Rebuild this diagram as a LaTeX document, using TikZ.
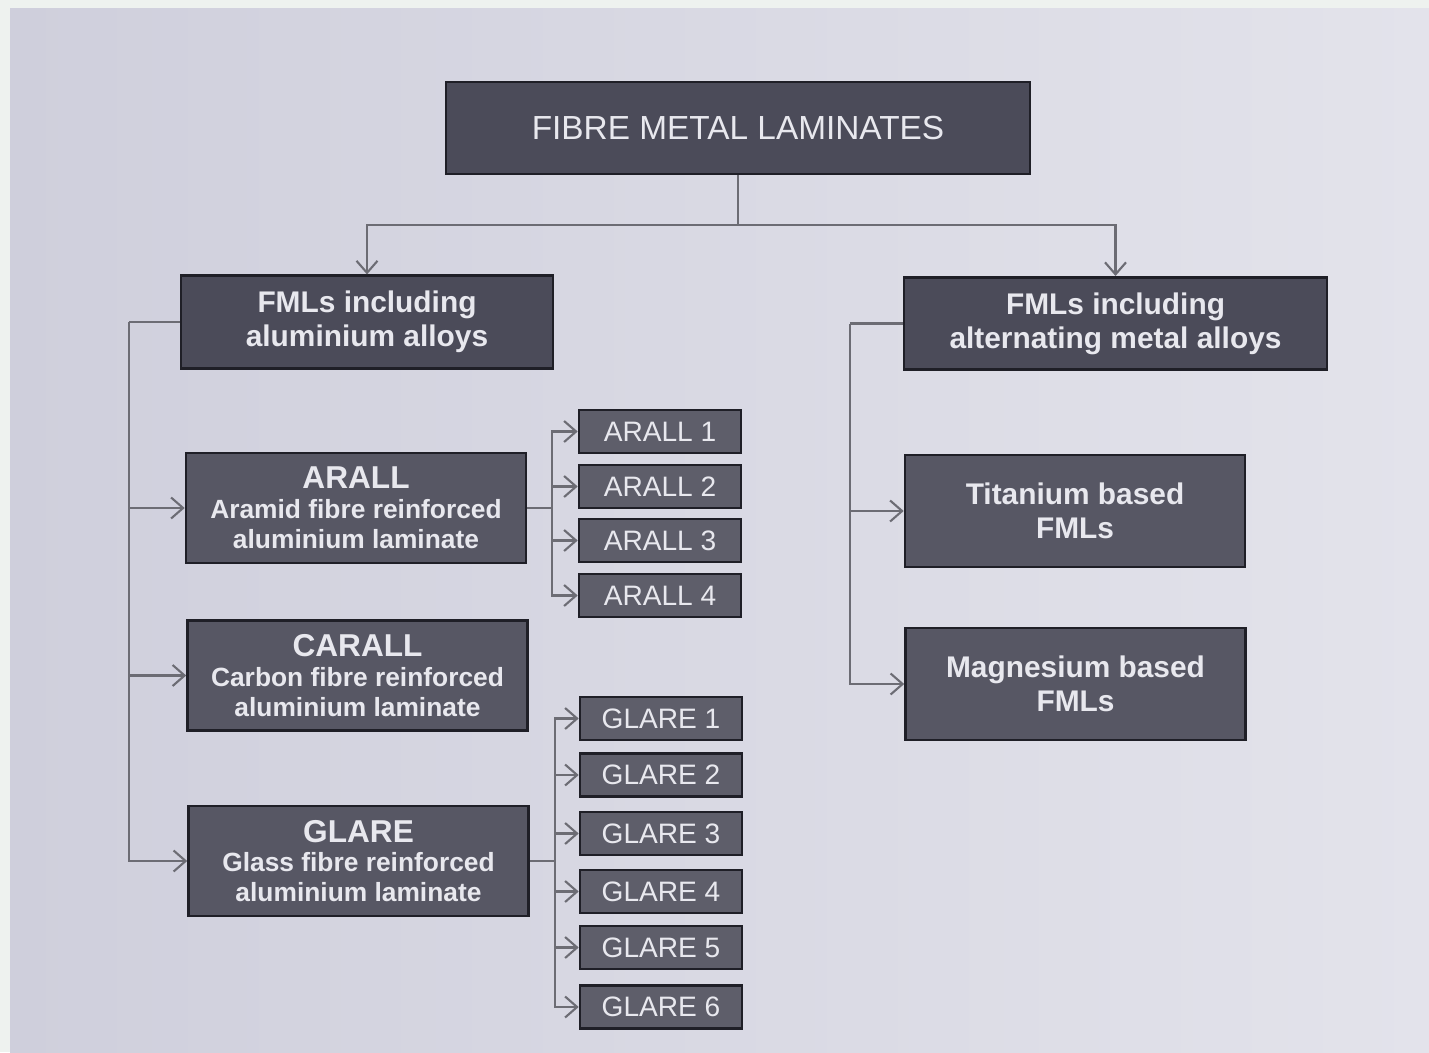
\documentclass[tikz,border=0pt]{standalone}
\usepackage{fontspec}
\setmainfont{Liberation Sans}
\usetikzlibrary{arrows.meta, positioning}
\definecolor{bgout}{HTML}{EEF2EF}
\definecolor{bgleft}{HTML}{CFCFDC}
\definecolor{bgright}{HTML}{E3E3EB}
\definecolor{boxdark}{HTML}{4B4B59}
\definecolor{boxmid}{HTML}{575764}
\definecolor{boxsub}{HTML}{5E5E6A}
\definecolor{boxline}{HTML}{1F1F27}
\definecolor{boxtext}{HTML}{E8E8EE}
\definecolor{linkgray}{HTML}{6C6C74}

\begin{document}
\begin{tikzpicture}[
    x=0.02cm, y=-0.02cm,
    box/.style={rectangle, draw=boxline, line width=1.5pt, fill=boxmid,
                text=boxtext, align=center, inner sep=0pt},
    topbox/.style={box, fill=boxdark, minimum width=11.68cm, minimum height=1.84cm,
                   font=\fontsize{19}{22}\selectfont},
    catbox/.style={box, fill=boxdark, minimum height=1.85cm,
                   font=\bfseries\fontsize{17}{19.5}\selectfont},
    typebox/.style={box, minimum width=6.8cm, minimum height=2.2cm,
                    font=\bfseries\fontsize{15}{17}\selectfont},
    subbox/.style={box, fill=boxsub, minimum width=3.24cm, minimum height=0.86cm,
                   font=\fontsize{16}{18}\selectfont},
    link/.style={draw=linkgray, line width=1.2pt},
    arr/.style={link, -{Straight Barb[length=2.4mm, width=4.2mm]}}
]
% background of the slide
\fill[bgout] (0,0) rectangle (1429,1052);
\shade[left color=bgleft, right color=bgright] (10,8) rectangle (1429,1052);

% boxes
\node[topbox] (fml) at (738,128) {FIBRE METAL LAMINATES};
\node[catbox, minimum width=7.44cm] (alu) at (367,322) {FMLs including\\aluminium alloys};
\node[catbox, minimum width=8.46cm] (alt) at (1115.5,323.5) {FMLs including\\alternating metal alloys};

\node[typebox] (arall)  at (356,508)   {{\fontsize{18}{20}\selectfont ARALL}\\Aramid fibre reinforced\\aluminium laminate};
\node[typebox] (carall) at (357.5,675.5) {{\fontsize{18}{20}\selectfont CARALL}\\Carbon fibre reinforced\\aluminium laminate};
\node[typebox] (glare)  at (358.5,861) {{\fontsize{18}{20}\selectfont GLARE}\\Glass fibre reinforced\\aluminium laminate};

\node[subbox] (arall1) at (660,431.5) {ARALL 1};
\node[subbox] (arall2) at (660,486.5) {ARALL 2};
\node[subbox] (arall3) at (660,540.5) {ARALL 3};
\node[subbox] (arall4) at (660,595.5) {ARALL 4};

\node[subbox] (glare1) at (661,718.5)  {GLARE 1};
\node[subbox] (glare2) at (661,775)    {GLARE 2};
\node[subbox] (glare3) at (661,833.5)  {GLARE 3};
\node[subbox] (glare4) at (661,891.5)  {GLARE 4};
\node[subbox] (glare5) at (661,947.5)  {GLARE 5};
\node[subbox] (glare6) at (661,1007)   {GLARE 6};

\node[typebox, font=\bfseries\fontsize{17}{19.5}\selectfont, minimum height=2.24cm] (tita) at (1075,511) {Titanium based\\FMLs};
\node[typebox, font=\bfseries\fontsize{17}{19.5}\selectfont, minimum height=2.24cm] (magn) at (1075.5,684) {Magnesium based\\FMLs};

% connectors
\draw[link] (fml.south) -- ++(0,50) coordinate (split);
\draw[arr] (split) -| (alu.north);
\draw[arr] (split) -| (alt.north);

\draw[link] (alu.west) -- ++(-51,0) coordinate (aluspine);
\draw[arr] (aluspine) |- (arall.west);
\draw[arr] (aluspine) |- (carall.west);
\draw[arr] (aluspine) |- (glare.west);

\draw[link] (arall.east) -- ++(25,0) coordinate (arallspine);
\draw[arr] (arallspine) |- (arall1.west);
\draw[arr] (arallspine) |- (arall2.west);
\draw[arr] (arallspine) |- (arall3.west);
\draw[arr] (arallspine) |- (arall4.west);

\draw[link] (glare.east) -- ++(25,0) coordinate (glarespine);
\draw[arr] (glarespine) |- (glare1.west);
\draw[arr] (glarespine) |- (glare2.west);
\draw[arr] (glarespine) |- (glare3.west);
\draw[arr] (glarespine) |- (glare4.west);
\draw[arr] (glarespine) |- (glare5.west);
\draw[arr] (glarespine) |- (glare6.west);

\draw[link] (alt.west) -- ++(-53,0) coordinate (altspine);
\draw[arr] (altspine) |- (tita.west);
\draw[arr] (altspine) |- (magn.west);
\end{tikzpicture}
\end{document}
